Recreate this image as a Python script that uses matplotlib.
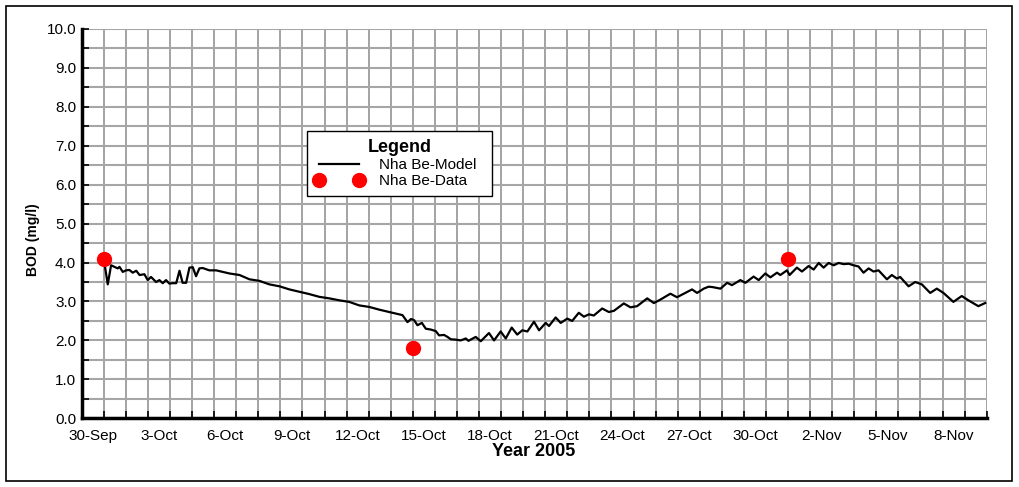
import matplotlib
matplotlib.use("Agg")
import matplotlib.pyplot as plt
from matplotlib.patches import Rectangle

plt.rcParams['font.family'] = ['Liberation Sans', 'DejaVu Sans']

# model line: days since 30-Sep 00:00, BOD (mg/l)
model_days = [
    0.03, 0.18, 0.33, 0.48, 0.63, 0.71, 0.86, 1.01, 1.16, 1.31, 1.47, 1.62, 1.84, 1.99,
    2.14, 2.37, 2.52, 2.67, 2.82, 2.97, 3.12, 3.28, 3.43, 3.57, 3.73, 3.88, 4.03, 4.18,
    4.33, 4.48, 4.78, 5.09, 5.24, 5.69, 6.15, 6.60, 7.05, 7.50, 7.96, 8.41, 8.86, 9.31,
    9.76, 10.22, 10.67, 11.12, 11.57, 12.03, 12.48, 12.93, 13.53,
    13.76, 13.92, 14.06, 14.21, 14.41, 14.59, 14.81, 15.04, 15.19, 15.42, 15.57, 15.72,
    15.95, 16.17, 16.40, 16.52,
    16.85, 17.08, 17.45, 17.68, 17.98, 18.21, 18.48, 18.73, 18.96, 19.19, 19.49, 19.72,
    20.02, 20.17, 20.47, 20.70, 21.00, 21.22, 21.52, 21.75, 21.98,
    22.20, 22.58, 22.88, 23.11, 23.56, 23.86, 24.16, 24.62, 24.92, 25.22, 25.67, 25.97,
    26.28, 26.65, 26.88,
    27.18, 27.40, 27.58, 27.94, 28.24, 28.46, 28.84, 29.07, 29.44, 29.67, 29.97, 30.20,
    30.50, 30.65, 30.95, 31.07, 31.40, 31.63, 31.93, 32.16, 32.39, 32.61, 32.84, 33.07,
    33.29, 33.52, 33.75,
    33.97, 34.19, 34.42, 34.65, 34.87, 35.10, 35.48, 35.70, 35.93, 36.08, 36.46, 36.76,
    37.06, 37.44, 37.74, 38.04, 38.49, 38.87, 39.17, 39.62, 39.93,
]
model_bod = [
    3.98, 3.44, 3.93, 3.89, 3.85, 3.89, 3.76, 3.80, 3.81, 3.74, 3.79, 3.68, 3.70, 3.55,
    3.63, 3.50, 3.55, 3.47, 3.55, 3.46, 3.47, 3.47, 3.79, 3.48, 3.48, 3.87, 3.88, 3.65,
    3.85, 3.86, 3.80, 3.80, 3.78, 3.72, 3.68, 3.57, 3.53, 3.44, 3.39, 3.31, 3.25, 3.19,
    3.12, 3.08, 3.03, 2.99, 2.90, 2.86, 2.79, 2.73, 2.65,
    2.47, 2.55, 2.52, 2.39, 2.45, 2.30, 2.28, 2.24, 2.13, 2.14, 2.09, 2.03,
    2.02, 2.00, 2.05, 1.99,
    2.09, 1.98, 2.19, 2.00, 2.23, 2.05, 2.33, 2.15, 2.26, 2.23, 2.48, 2.26,
    2.45, 2.37, 2.59, 2.45, 2.56, 2.50, 2.71, 2.61, 2.67,
    2.64, 2.82, 2.73, 2.76, 2.95, 2.85, 2.88, 3.08, 2.96, 3.05, 3.20, 3.11,
    3.20, 3.31, 3.22,
    3.33, 3.38, 3.37, 3.33, 3.48, 3.42, 3.55, 3.48, 3.64, 3.55, 3.72, 3.62,
    3.74, 3.68, 3.80, 3.68, 3.87, 3.77, 3.91, 3.82, 3.99, 3.87, 3.99, 3.93,
    3.99, 3.96, 3.97,
    3.93, 3.90, 3.74, 3.85, 3.77, 3.80, 3.57, 3.68, 3.59, 3.63, 3.39, 3.50,
    3.44, 3.22, 3.33, 3.22, 2.99, 3.14, 3.03, 2.88, 2.96,
]

# observed data
data_days = [0, 14, 31]
data_bod = [4.1, 1.8, 4.1]

tick_days = [0, 3, 6, 9, 12, 15, 18, 21, 24, 27, 30, 33, 36, 39]
tick_labels = ['30-Sep', '3-Oct', '6-Oct', '9-Oct', '12-Oct', '15-Oct', '18-Oct',
               '21-Oct', '24-Oct', '27-Oct', '30-Oct', '2-Nov', '5-Nov', '8-Nov']

fig = plt.figure(figsize=(10.19, 4.87), dpi=100)
ax = fig.add_axes([0.0802, 0.1411, 0.8881, 0.7994])

ax.plot(model_days, model_bod, color='black', lw=1.6, label='Nha Be-Model', zorder=3)
ax.plot(data_days, data_bod, 'o', color='#ff0000', ms=10, mec='#ff0000',
        label='Nha Be-Data', zorder=4, clip_on=False)

ax.set_xlim(-1, 40)
ax.set_ylim(0, 10)

# gridlines every day / every 0.5
ax.set_xticks(range(-1, 41))
ax.set_xticklabels([])
ax.set_yticks([i * 0.5 for i in range(21)])
ax.set_yticklabels(['%.1f' % (i * 0.5) if i % 2 == 0 else '' for i in range(21)],
                   fontsize=11)
ax.grid(True, axis='x', color='#8a8a8a', lw=1.1)
ax.grid(True, axis='y', color='#a6a6a6', lw=1.5)
ax.set_axisbelow(True)

# date labels sit half a day left of the grid line
ax.set_xticks([d - 0.5 for d in tick_days], minor=True)
ax.set_xticklabels(tick_labels, minor=True, fontsize=11)
ax.tick_params(axis='x', which='minor', length=0, pad=8)
ax.tick_params(axis='x', which='major', direction='in', length=5, width=1.2, color='black')
ax.tick_params(axis='y', direction='in', length=5, width=1.2, color='black', pad=4)

for s in ['top', 'right']:
    ax.spines[s].set_visible(False)
for s in ['left', 'bottom']:
    ax.spines[s].set_linewidth(2.5)

ax.set_ylabel('BOD (mg/l)', fontsize=10, fontweight='bold')
ax.yaxis.set_label_coords(-0.046, 0.46)
fig.text(534 / 1019, 1 - 452 / 487, 'Year 2005', ha='center', va='center',
         fontsize=13, fontweight='bold')

leg = ax.legend(loc='upper left', bbox_to_anchor=(0.249, 0.5, 0.2044, 0.238),
                mode='expand', borderaxespad=0,
                numpoints=2, fontsize=11, title='Legend', fancybox=False,
                framealpha=1, edgecolor='black', handlelength=3.2, borderpad=0.5,
                handletextpad=1.0, labelspacing=0.15)
leg.get_title().set_fontweight('bold')
leg.get_title().set_fontsize(13)
leg.get_frame().set_linewidth(1.0)

fig.patches.append(Rectangle((6 / 1019, 6 / 487), 1006 / 1019, 475 / 487,
                             transform=fig.transFigure, fill=False,
                             edgecolor='black', lw=1.2))

fig.savefig('out.png', dpi=100)
